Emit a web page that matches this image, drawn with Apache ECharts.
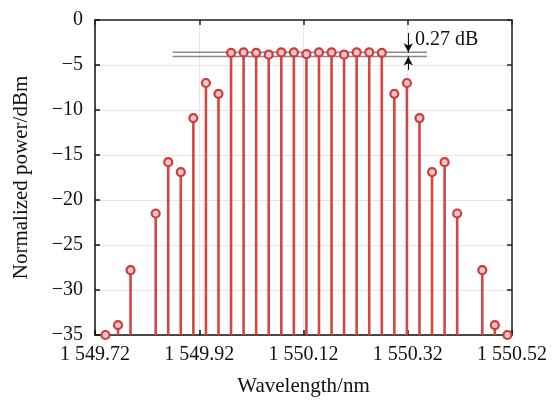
<!DOCTYPE html>
<html><head><meta charset="utf-8">
<script src="https://cdn.jsdelivr.net/npm/echarts@6/dist/echarts.min.js"></script>
<style>html,body{margin:0;padding:0;background:#fff}#c{width:553px;height:402px}</style>
</head><body><div id="c"></div>
<script>
// Wavelengths (nm) of the comb lines
const wavelengths = [1549.7400, 1549.7641, 1549.7882, 1549.8364, 1549.8605, 1549.8846, 1549.9087,
  1549.9328, 1549.9569, 1549.9810, 1550.0051, 1550.0292, 1550.0533, 1550.0774, 1550.1015,
  1550.1256, 1550.1497, 1550.1738, 1550.1979, 1550.2220, 1550.2461, 1550.2702, 1550.2943,
  1550.3184, 1550.3425, 1550.3666, 1550.3907, 1550.4148, 1550.4630, 1550.4871, 1550.5112];
// Normalized power (dBm)
const powers = [-35.0, -33.9, -27.8, -21.5, -15.8, -16.9, -10.9,
  -7.0, -8.2, -3.65, -3.6, -3.65, -3.85, -3.6, -3.6,
  -3.8, -3.6, -3.6, -3.85, -3.6, -3.6, -3.65, -8.2,
  -7.0, -10.9, -16.9, -15.8, -21.5, -27.8, -33.9, -35.0];
const xTickLabels = ['1 549.72', '1 549.92', '1 550.12', '1 550.32', '1 550.52'];
const xStart = 1549.72;
// Flatness reference lines
const refX = [1549.869, 1550.357];
const refY = [-3.59, -4.05];
const arrowX = 1550.321;
const arrowDown = [-1.45, -3.59];
const arrowUp = [-5.55, -4.05];
const annotation = '0.27 dB';

const data = wavelengths.map((w, i) => [w - xStart, powers[i]]);
const FONT = 'Liberation Serif';
const red = '#d64444';
const tick = (c) => ({show: true, inside: true, length: 5, lineStyle: {color: c, width: 1.5}});
const line = (c) => ({show: true, onZero: false, lineStyle: {color: c, width: 1.5}});

const chart = echarts.init(document.getElementById('c'));
chart.setOption({
  animation: false,
  grid: {left: 95, right: 41, top: 20, bottom: 67, show: false},
  xAxis: [{
    type: 'value', min: 0, max: 0.8, interval: 0.2,
    name: 'Wavelength/nm', nameLocation: 'middle', nameGap: 41,
    nameTextStyle: {fontFamily: FONT, fontSize: 21, color: '#111'},
    axisLine: line('#111'), axisTick: tick('#111'),
    axisLabel: {fontFamily: FONT, fontSize: 20, color: '#111', margin: 10,
      formatter: (v) => xTickLabels[Math.round(v / 0.2)]},
    splitLine: {show: true, lineStyle: {color: '#e6e6e6', width: 1}}
  }, {
    type: 'value', position: 'top', min: 0, max: 0.8, interval: 0.2,
    axisLine: line('#222'), axisTick: tick('#222'),
    axisLabel: {show: false}, splitLine: {show: false}
  }],
  yAxis: [{
    type: 'value', min: -35, max: 0, interval: 5,
    name: 'Normalized power/dBm', nameLocation: 'middle', nameGap: 63,
    nameTextStyle: {fontFamily: FONT, fontSize: 21, color: '#111'},
    axisLine: line('#111'), axisTick: tick('#111'),
    axisLabel: {fontFamily: FONT, fontSize: 20, color: '#111', margin: 12,
      formatter: (v) => v < 0 ? '\u2212' + Math.abs(v) : String(v)},
    splitLine: {show: true, lineStyle: {color: '#e6e6e6', width: 1}}
  }, {
    type: 'value', position: 'right', min: -35, max: 0, interval: 5,
    axisLine: line('#222'), axisTick: tick('#222'),
    axisLabel: {show: false}, splitLine: {show: false}
  }],
  series: [{
    type: 'line', z: 1, silent: true, symbol: 'none',
    data: [[refX[0] - xStart, refY[0]], [refX[1] - xStart, refY[0]]],
    lineStyle: {color: '#8a8a8a', width: 1.5}
  }, {
    type: 'line', z: 1, silent: true, symbol: 'none',
    data: [[refX[0] - xStart, refY[1]], [refX[1] - xStart, refY[1]]],
    lineStyle: {color: '#8a8a8a', width: 1.5},
    markLine: {
      silent: true, symbol: ['none', 'arrow'], symbolSize: [7, 9],
      lineStyle: {color: '#111', width: 1, type: 'solid'}, label: {show: false},
      data: [
        [{coord: [arrowX - xStart, arrowDown[0]]}, {coord: [arrowX - xStart, arrowDown[1]]}],
        [{coord: [arrowX - xStart, arrowUp[0]]}, {coord: [arrowX - xStart, arrowUp[1]]}]
      ]
    }
  }, {
    type: 'custom', z: 3,
    data: data,
    renderItem: function (params, api) {
      const x = api.value(0), y = api.value(1);
      const p0 = api.coord([x, -35]);
      const p1 = api.coord([x, y]);
      return {type: 'group', children: [
        {type: 'line', shape: {x1: p0[0], y1: p0[1], x2: p1[0], y2: p1[1] + 3},
          style: {stroke: red, lineWidth: 2.6}},
        {type: 'circle', shape: {cx: p1[0], cy: p1[1], r: 4},
          style: {fill: '#f4c4c4', stroke: '#cc3c3c', lineWidth: 2.2}}
      ]};
    }
  }],
  graphic: [{
    type: 'text', left: 415, top: 30,
    style: {text: annotation, fontFamily: FONT, fontSize: 20, fill: '#111'}
  }]
});
</script>
</body></html>
